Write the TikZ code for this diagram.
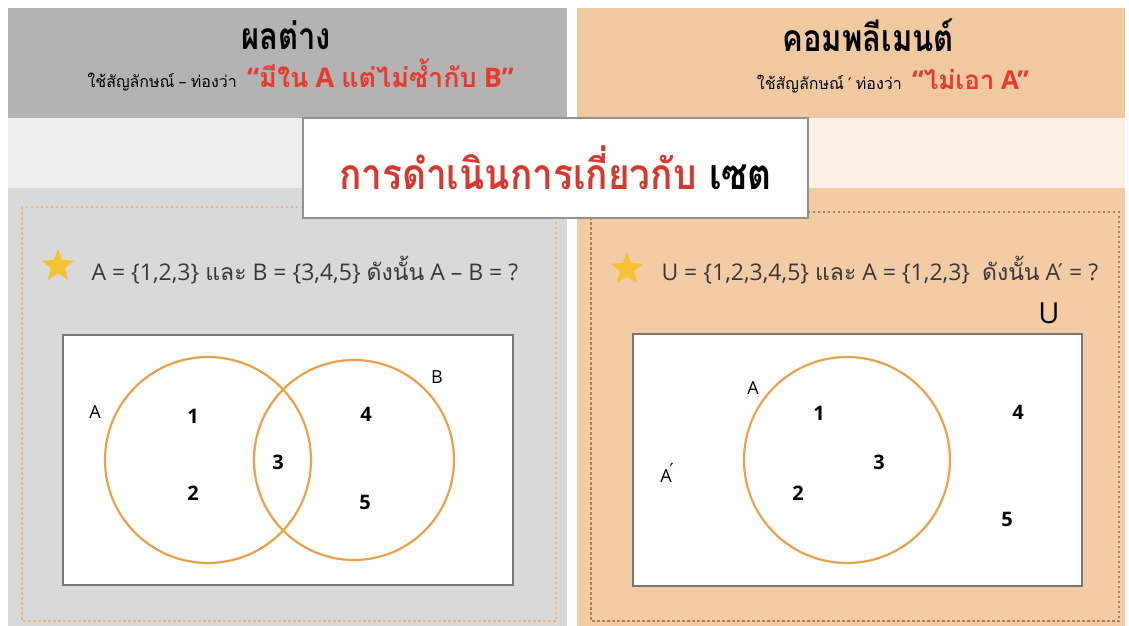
\documentclass[tikz,border=0pt]{standalone}
\usepackage{fontspec}
\setmainfont{Open Sans}
\newfontfamily\thaifont[Script=Thai]{Loma}
\newfontfamily\symfont{DejaVu Sans}
\usetikzlibrary{shapes.geometric,positioning}

\definecolor{hdrgray}{HTML}{B3B3B3}
\definecolor{hdrpeach}{HTML}{F1C9A1}
\definecolor{bandgray}{HTML}{EEEEEE}
\definecolor{bandpeach}{HTML}{FCEFE3}
\definecolor{panelgray}{HTML}{D9D9D9}
\definecolor{panelpeach}{HTML}{F3CBA5}
\definecolor{vennorange}{HTML}{E9A24C}
\definecolor{framegray}{HTML}{767676}
\definecolor{stargold}{HTML}{F5C332}
\definecolor{sayred}{HTML}{E63B2E}
\definecolor{titlered}{HTML}{D43A2F}

\newcommand{\thai}[1]{{\thaifont #1}}
\newcommand{\prm}{{\symfont\char"2032}}

\begin{document}
\begin{tikzpicture}[x=1pt,y=-1pt,
    venn/.style={draw=vennorange,line width=2.2pt},
    vframe/.style={draw=framegray,line width=2pt,fill=white},
    elem/.style={font=\bfseries\fontsize{20}{20}\selectfont},
    setlbl/.style={font=\fontsize{18}{18}\selectfont},
    goldstar/.style={star,star points=5,star point ratio=2.3,fill=stargold,
        minimum size=34pt,inner sep=0pt},
    stmt/.style={anchor=west,font=\fontsize{23}{23}\selectfont,text=black!78},
    hdr/.style={inner sep=0pt,font=\thaifont\bfseries\fontsize{31}{31}\selectfont},
    sub/.style={anchor=base east,inner sep=0pt,font=\fontsize{16}{16}\selectfont},
    say/.style={anchor=base west,inner sep=0pt,text=sayred}]

    \useasboundingbox (0,0) rectangle (1129,626);
    \fill[white] (0,0) rectangle (1129,626);

    % พื้นหลัง
    \fill[hdrgray] (8,8) rectangle (567,118);
    \fill[hdrpeach] (577,8) rectangle (1125,118);
    \fill[bandgray] (8,118) rectangle (567,188);
    \fill[bandpeach] (577,118) rectangle (1125,188);
    \fill[panelgray] (8,188) rectangle (567,626);
    \fill[panelpeach] (577,188) rectangle (1125,626);

    % กรอบจุด
    \draw[draw=hdrpeach!80!brown,line width=1.3pt,dash pattern=on 2.5pt off 2.5pt]
        (22,207) rectangle (556,621);
    \draw[draw=brown!60!gray,line width=1.1pt,dash pattern=on 2.5pt off 2.5pt]
        (591,212) rectangle (1119,621);

    % หัวข้อ
    \node[hdr] (hdrL) at (286,35) {\scalebox{1}[1.2]{ผลต่าง}};
    \node[sub] (subL) at (237,87) {\thai{ใช้สัญลักษณ์} – \thai{ท่องว่า}};
    \node[say,font=\bfseries\fontsize{27}{27}\selectfont]
        (sayL) at ([xshift=10pt]subL.base east) {“\thai{มีใน} A \thai{แต่ไม่ซ้ำกับ} B”};

    \node[hdr] (hdrR) at (868,35) {\scalebox{1}[1.2]{คอมพลีเมนต์}};
    \node[sub] (subR) at (902,89) {\thai{ใช้สัญลักษณ์} \prm\ \thai{ท่องว่า}};
    \node[say,font=\bfseries\fontsize{26}{26}\selectfont]
        (sayR) at ([xshift=10pt]subR.base east) {“\thai{ไม่เอา} A”};

    % ชื่อเรื่อง
    \node[draw=framegray!80,line width=1.5pt,fill=white,minimum width=505pt,
        minimum height=100pt,font=\thaifont\bfseries\fontsize{37}{37}\selectfont] (ttl)
        at (555.5,168) {\scalebox{1}[1.15]{\textcolor{titlered}{การดำเนินการเกี่ยวกับ} เซต}};

    % โจทย์
    \node[goldstar] (starL) at (58,266) {};
    \node[stmt] (qL) at (88,270)
        {A = \{1,2,3\} \thai{และ} B = \{3,4,5\} \thai{ดังนั้น} A – B = ?};
    \node[goldstar] (starR) at (627,269) {};
    \node[stmt] (qR) at (658,270)
        {U = \{1,2,3,4,5\} \thai{และ} A = \{1,2,3\}\ \ \thai{ดังนั้น} A\kern-0.1em\prm\ = ?};

    % แผนภาพ A - B
    \draw[vframe] (63,335) rectangle (513,585);
    \node[circle,venn,minimum size=206pt] (cA) at (208,460) {};
    \node[circle,venn,minimum size=200pt] (cB) at (354,460) {};
    \node[setlbl] (lA) at (95,412) {A};
    \node[setlbl] (lB) at (437,377) {B};
    \node[elem] (e1) at (193,416) {1};
    \node[elem] (e2) at (193,493) {2};
    \node[elem] (e3) at (278,462) {3};
    \node[elem] (e4) at (366,414) {4};
    \node[elem] (e5) at (365,502) {5};

    % แผนภาพ A'
    \draw[vframe] (633,334) rectangle (1082,586);
    \node[circle,venn,minimum size=206pt] (cA2) at (847,460) {};
    \node[font=\fontsize{29}{29}\selectfont] (lU) at (1049,313) {U};
    \node[setlbl] (lA2) at (753,388) {A};
    \node[setlbl] (lAc) at (667,473) {A\kern-0.12em\raisebox{0.35em}{\prm}};
    \node[elem] (f1) at (819,413) {1};
    \node[elem] (f2) at (798,493) {2};
    \node[elem] (f3) at (879,462) {3};
    \node[elem] (f4) at (1018,412) {4};
    \node[elem] (f5) at (1007,519) {5};
\end{tikzpicture}
\end{document}
